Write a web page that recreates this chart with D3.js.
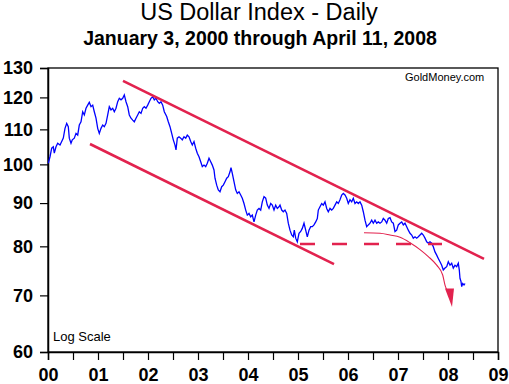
<!DOCTYPE html>
<html><head><meta charset="utf-8">
<script src="https://cdn.jsdelivr.net/npm/d3@7"></script>
<style>body{margin:0;background:#fff}svg{display:block}text{font-family:Arial,"Liberation Sans",sans-serif}</style>
</head><body><svg id="c" width="509" height="384"></svg>
<script>
// decimal-year dates and index values
const dates=[2000.006,2000.04,2000.074,2000.106,2000.126,2000.16,2000.194,2000.24,2000.274,2000.306,2000.34,2000.374,2000.406,2000.426,2000.46,2000.486,2000.526,2000.56,2000.594,2000.626,2000.66,2000.694,2000.726,2000.76,2000.794,2000.826,2000.86,2000.894,2000.926,2000.96,2000.994,
2001.026,2001.06,2001.094,2001.126,2001.16,2001.194,2001.226,2001.26,2001.294,2001.326,2001.36,2001.394,2001.426,2001.46,2001.494,2001.526,2001.56,2001.594,2001.626,2001.66,2001.694,2001.726,2001.76,2001.794,2001.826,2001.86,2001.894,2001.926,2001.96,2001.994,
2002.026,2002.06,2002.094,2002.126,2002.16,2002.194,2002.226,2002.26,2002.294,2002.326,2002.374,2002.406,2002.44,2002.474,2002.506,2002.54,2002.56,2002.586,2002.62,2002.654,2002.686,2002.72,2002.754,2002.786,2002.82,2002.854,2002.886,2002.92,2002.954,2002.986,
2003.02,2003.054,2003.086,2003.12,2003.154,2003.186,2003.22,2003.254,2003.286,2003.32,2003.34,2003.374,2003.406,2003.44,2003.474,2003.506,2003.54,2003.574,2003.606,2003.64,2003.66,2003.686,2003.72,2003.754,2003.786,2003.82,2003.854,2003.886,2003.92,2003.954,2003.986,
2004.02,2004.054,2004.086,2004.12,2004.154,2004.186,2004.22,2004.254,2004.286,2004.32,2004.354,2004.386,2004.42,2004.454,2004.486,2004.52,2004.554,2004.586,2004.62,2004.64,2004.674,2004.706,2004.74,2004.774,2004.806,2004.84,2004.874,2004.906,2004.926,2004.954,2004.986,
2005.02,2005.054,2005.086,2005.12,2005.154,2005.186,2005.22,2005.254,2005.286,2005.32,2005.354,2005.386,2005.406,2005.44,2005.474,2005.506,2005.54,2005.574,2005.606,2005.64,2005.674,2005.706,2005.74,2005.774,2005.806,2005.84,2005.874,2005.906,2005.94,2005.974,
2006.006,2006.04,2006.074,2006.106,2006.14,2006.174,2006.206,2006.24,2006.274,2006.306,2006.34,2006.374,2006.406,2006.44,2006.474,2006.506,2006.54,2006.574,2006.606,2006.64,2006.674,2006.706,2006.74,2006.774,2006.806,2006.84,2006.874,2006.906,2006.94,2006.974,
2007.006,2007.04,2007.074,2007.106,2007.14,2007.174,2007.206,2007.24,2007.274,2007.306,2007.34,2007.374,2007.406,2007.44,2007.474,2007.506,2007.54,2007.574,2007.606,2007.64,2007.674,2007.706,2007.74,2007.774,2007.806,2007.84,2007.874,2007.906,2007.94,2007.974,
2008.006,2008.04,2008.074,2008.106,2008.14,2008.174,2008.206,2008.226,2008.24,2008.26,2008.274,2008.294,2008.32,2008.34];
const usdx=[100.3,102.1,104.5,104.9,103.1,104.9,105.9,105.4,106.4,107.4,110.3,111.8,110.8,107.4,105.9,106.9,107.4,108.8,108.3,111.3,112.3,115.4,114.4,116.5,117.5,118.4,117.0,117.5,115.4,113.4,110.3,
108.8,110.3,111.3,110.8,111.8,114.4,117.0,116.0,116.5,115.4,116.5,118.6,119.7,119.2,119.7,120.8,118.6,117.0,114.4,113.4,112.8,112.3,113.4,114.4,115.4,114.9,116.5,117.0,116.5,117.5,
118.6,119.7,120.2,119.2,119.7,118.6,118.1,118.6,117.5,115.4,113.9,112.3,110.8,108.8,106.9,105.4,104.0,107.4,107.8,107.4,106.9,107.8,107.4,108.3,107.8,106.4,105.4,106.4,104.5,103.1,
102.1,100.7,99.4,99.8,99.4,100.3,101.7,100.7,99.8,98.5,96.3,94.5,93.3,92.8,94.1,94.5,95.4,96.3,96.7,98.0,99.1,97.6,95.4,93.3,92.4,92.8,92.0,91.2,89.9,88.3,87.1,
87.5,86.7,87.1,85.5,87.1,88.3,88.7,88.3,90.3,91.6,91.2,89.5,88.7,89.9,89.5,88.3,89.5,88.7,89.1,89.5,88.3,87.9,88.3,87.5,85.2,83.6,82.5,82.1,83.6,81.8,81.0,
82.9,83.3,84.0,85.2,83.6,82.1,83.6,84.4,84.4,84.8,85.5,86.3,88.3,89.1,89.9,89.5,90.3,88.7,87.9,88.7,88.3,88.7,89.5,90.3,89.9,90.8,92.0,92.4,92.0,91.2,
89.9,90.8,90.3,91.2,89.9,90.3,89.9,90.3,89.5,87.9,85.9,84.4,84.8,85.2,85.9,85.2,85.9,85.2,85.5,85.2,85.5,86.3,85.9,85.2,86.3,86.5,85.5,85.2,83.3,83.6,
84.8,85.2,85.5,84.8,85.2,84.4,83.6,82.9,82.5,81.8,82.1,81.8,82.1,82.5,82.9,82.5,81.8,81.0,80.7,81.0,80.7,79.9,78.8,78.1,77.4,76.7,76.0,75.0,75.4,75.7,
76.7,76.0,76.4,75.4,76.0,75.7,76.4,75.0,73.3,72.7,71.7,72.3,72.0,72.3];

const yTicks=[60,70,80,90,100,110,120,130];
const xTicks=[2000,2000.5,2001,2001.5,2002,2002.5,2003,2003.5,2004,2004.5,2005,2005.5,2006,2006.5,2007,2007.5,2008,2008.5,2009];
const xLabels=["00","01","02","03","04","05","06","07","08","09"];

// annotation lines (data space)
const upperT=[2001.5,2008.72], upperV=[125.5,77.3];
const lowerT=[2000.84,2005.72], lowerV=[105.7,76.2];
const supportT=[2005.04,2007.88], supportV=[80.5,80.5];
const curveT=[2006.32,2006.64,2006.84,2007.04,2007.24,2007.44,2007.606,2007.774,2007.894,2007.94,2007.974];
const curveV=[83.0,82.9,82.5,82.0,80.8,79.3,77.8,76.0,74.0,72.0,71.1];
const arrowT=[2007.94,2008.12,2008.08], arrowV=[71.3,71.3,67.8];

const svg=d3.select("#c");
const x=d3.scaleLinear().domain([2000,2009]).range([48,498]);
const y=d3.scaleLog().domain([60,130]).range([352,68]);
const red="#e2224e";

svg.append("text").attr("x",259).attr("y",20).attr("text-anchor","middle")
  .style("font-size","23.5px").text("US Dollar Index - Daily");
svg.append("text").attr("x",260).attr("y",45).attr("text-anchor","middle")
  .style("font-size","19.5px").style("font-weight","bold").text("January 3, 2000 through April 11, 2008");

// frame
svg.append("rect").attr("x",x(2000)).attr("y",y(130)).attr("width",x(2009)-x(2000)).attr("height",y(60)-y(130))
  .attr("fill","none").attr("stroke","#000").attr("stroke-width",1.3);

const xa=svg.append("g").attr("transform",`translate(0,${y(60)})`)
  .call(d3.axisBottom(x).tickValues(xTicks).tickSize(8).tickPadding(8)
    .tickFormat(d=>Number.isInteger(d)?xLabels[d-2000]:""));
const ya=svg.append("g").attr("transform",`translate(${x(2000)},0)`)
  .call(d3.axisLeft(y).tickValues(yTicks).tickSize(8).tickPadding(7).tickFormat(d3.format("d")));
[xa,ya].forEach(g=>{
  g.select(".domain").attr("stroke","#000").attr("stroke-width",1.5);
  g.selectAll(".tick line").attr("stroke","#000").attr("stroke-width",1.2);
  g.selectAll(".tick text").attr("fill","#000").style("font-size","18px").style("font-weight","bold")
   .style("font-family","Arial, 'Liberation Sans', sans-serif");
});

svg.append("text").attr("x",405).attr("y",81).style("font-size","11px").text("GoldMoney.com");
svg.append("text").attr("x",53).attr("y",341).style("font-size","13px").text("Log Scale");

const seg=(T,V)=>T.map((t,i)=>[x(t),y(V[i])]);
const line=d3.line();

// price line
svg.append("path").attr("d",line(seg(dates,usdx))).attr("fill","none")
  .attr("stroke","#0000ff").attr("stroke-width",1.3).attr("stroke-linejoin","miter");

// trend channel
svg.append("path").attr("d",line(seg(upperT,upperV))).attr("stroke",red).attr("stroke-width",2.6).attr("fill","none");
svg.append("path").attr("d",line(seg(lowerT,lowerV))).attr("stroke",red).attr("stroke-width",2.6).attr("fill","none");
svg.append("path").attr("d",line(seg(supportT,supportV))).attr("stroke",red).attr("stroke-width",2.6)
  .attr("stroke-dasharray","15,17").attr("fill","none");
// projected path + arrowhead
svg.append("path").attr("d",d3.line().curve(d3.curveMonotoneX)(seg(curveT,curveV)))
  .attr("stroke",red).attr("stroke-width",1.1).attr("fill","none");
svg.append("path").attr("d",line(seg(arrowT,arrowV))+"Z").attr("fill",red);
</script></body></html>
